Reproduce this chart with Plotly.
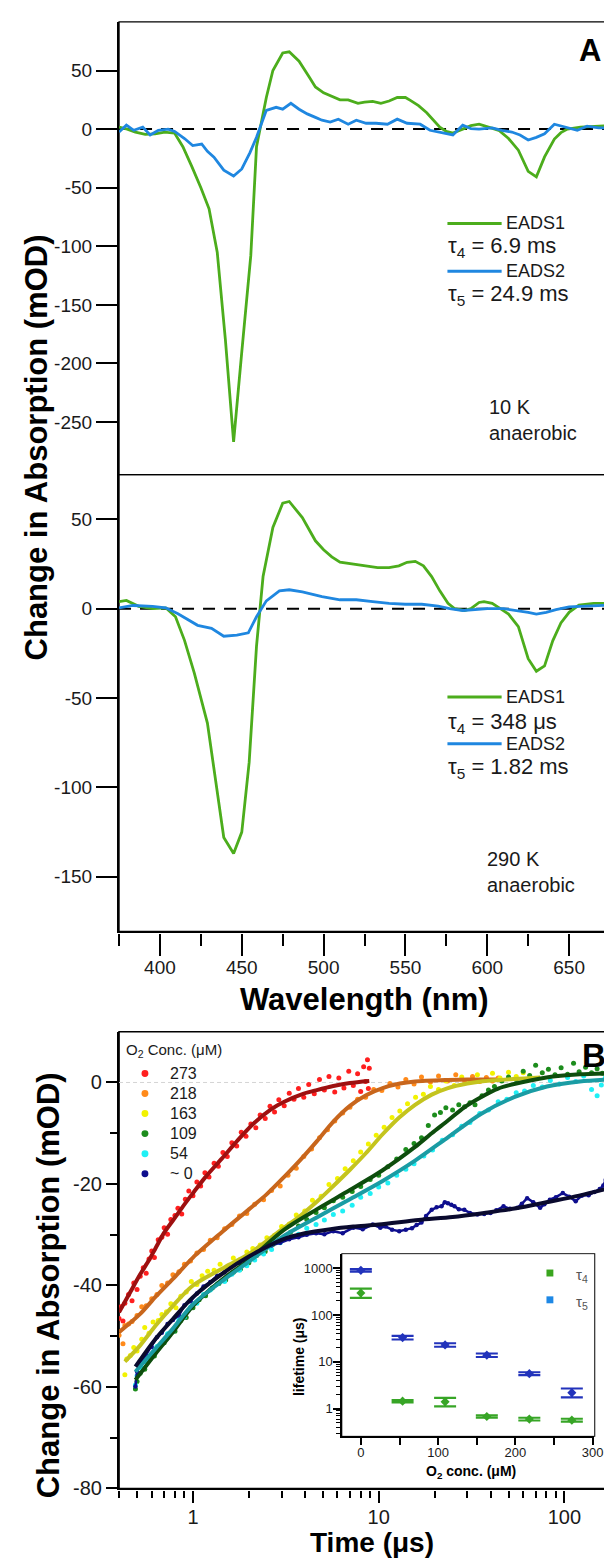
import math
import plotly.graph_objects as go

FONT = "Liberation Sans, Arial, sans-serif"
W, H = 612, 1559

# ---------------- Panel A data: (wavelength nm, mOD) ----------------
EADS1_10K = [(375,1.7),(380,0),(385,-2.5),(391,-4.5),(397,-4),(403,-2.5),(409,-3.5),(414,-15),
             (419.5,-32),(425,-50),(430,-68),(435,-105),(440,-180),(445,-267),(450,-190),
             (455.5,-108),(459,-15),(465,27),(469,50),(475,65),(479,66),(485,58),(491,45),
             (495,36),(500,31),(505,28),(510,25),(515,25),(521,22),(525,23),(530,23.7),
             (535,22),(540,24),(545,27),(550,27),(553,24.5),(558,20),(563,14),(567,8),
             (571,1.7),(575,-2),(579,-3.4),(585,0),(590,3),(595,4.2),(600,2),(607,-1),
             (613,-8),(619,-18),(625,-36),(630,-40.7),(635,-23.7),(641,-8.5),(645,-3),
             (649,0),(657,1.7),(665,2.5),(675,3)]
EADS2_10K = [(375,-2.5),(379.5,3.4),(384,-1),(389.5,1.7),(394,-5),(399,-1),(405,0),(409,-2),
             (415,-8),(420,-14),(425.5,-12.7),(429,-19),(433,-24),(439,-35),(445,-40),
             (450,-34),(455,-20),(459,-7),(465,16),(471,18.6),(475,17),(480,22),(485,17),
             (490,13),(495,10),(499,7.6),(504,6),(509,8.5),(515,4.2),(520,7.6),(526,5),
             (532,5),(539,4.2),(545,8.5),(551,5),(559,4.2),(565,-1),(572,-3),(579,-5),
             (585,3.4),(590,0.5),(595,0),(603,1),(609,-1),(615,-2.5),(620,-5),(625,-9.3),
             (630,-7),(635,-4),(641,4.2),(647,1.7),(655,-1),(661,2.5),(668,1),(674,1)]
EADS1_290K = [(375,4),(379.5,4.6),(387,1.3),(395.5,0),(403.5,0.5),(409.5,-4.5),(415,-17.7),
              (421,-36),(429,-64),(434,-96),(439,-128),(445,-137),(450,-125),(454.5,-86),
              (459,-21),(463,18),(469,45.5),(475,59),(479,60),(487,51),(495,38),(500,33),
              (505,29),(510,26),(517,25),(525,24),(533,23),(540,23),(546,24),(551,26),
              (556,26.5),(561,24),(566,18),(571,10),(576,3),(580,0),(586,-1),(590,0),
              (595,3.5),(598,4),(603,3),(608,0),(613,-3),(619,-10),(625,-28),(630,-35),
              (635,-32),(640,-18),(645,-8),(650,-2),(656,2),(665,3),(675,3)]
EADS2_290K = [(375,0.5),(383.5,1.8),(395.5,1.3),(403.5,0.5),(411,-2.8),(417,-6),(423,-9.3),
              (431.5,-11),(439,-15.4),(447,-14.8),(454,-13.5),(459,-4.5),(465,4.4),(473,10),
              (479,10.6),(487,9.4),(499,6.7),(510,5),(520,5),(530,4),(540,3),(550,2.5),
              (560,2.5),(570,1.5),(577,0),(585,-1),(592,-0.5),(600,0),(610,0),(618,-1),
              (625,-2),(630,-3),(636,-2),(642,-0.5),(650,1),(660,1.5),(675,2)]

A_Y_TICKS_TOP = [50, 0, -50, -100, -150, -200, -250]
A_Y_TICKS_BOT = [50, 0, -50, -100, -150]

# ---------------- Panel B data: (time us, mOD) ----------------
CONC_LABELS = ["273", "218", "163", "109", "54", "~ 0"]

DATA_273 = [(0.40,-46.5),(0.41,-44.2),(0.42,-47),(0.43,-43.5),(0.45,-41.8),(0.47,-43),(0.48,-39.5),
            (0.50,-40.8),(0.52,-38.2),(0.54,-36.5),(0.56,-37.6),(0.58,-34.8),(0.60,-33.2),(0.62,-34.5),
            (0.65,-31),(0.68,-30.5),(0.70,-28.6),(0.73,-29.9),(0.76,-27),(0.80,-26.2),(0.83,-24.8),
            (0.87,-25.9),(0.91,-23),(0.95,-21.4),(1.0,-22.3),(1.05,-19.6),(1.1,-20.4),(1.16,-17.8),
            (1.22,-18.6),(1.3,-15.9),(1.37,-16.5),(1.45,-13.8),(1.53,-14.6),(1.62,-11.9),(1.72,-12.5),
            (1.82,-9.8),(1.93,-10.6),(2.05,-8.2),(2.18,-8.9),(2.3,-6.4),(2.45,-7.1),(2.6,-4.7),
            (2.75,-5.8),(2.9,-3.4),(3.1,-4.6),(3.3,-2.1),(3.5,-3.3),(3.7,-1.2),(3.95,-2.9),(4.2,-0.4),
            (4.5,-2.2),(4.8,0.6),(5.1,-1.5),(5.4,1.2),(5.8,-1.9),(6.1,0.9),(6.5,-1.1),(6.9,2.2),
            (7.3,-0.6),(7.7,1.7),(8.0,-1.8),(8.3,3.1),(8.5,0.2),(8.7,4.5),(8.8,-1.2),(8.9,2.8)]
FIT_273 = [(0.40,-45.3),(0.46,-41.3),(0.52,-37.8),(0.58,-35.0),(0.63,-32.6),(0.70,-29.6),(0.78,-27.2),
           (0.88,-24.5),(1.0,-21.8),(1.17,-18.6),(1.43,-15.0),(1.75,-11.3),(2.15,-7.9),(2.63,-5.3),
           (3.1,-3.8),(3.95,-2.2),(4.64,-1.5),(5.7,-0.7),(7.0,-0.1),(8.9,0.3)]

DATA_218 = [(0.40,-49.8),(0.42,-51.5),(0.43,-47.9),(0.45,-47.6),(0.47,-47.1),(0.50,-45.9),(0.53,-44.2),
            (0.56,-44.0),(0.60,-42.6),(0.64,-41.8),(0.68,-40.0),(0.73,-39.5),(0.78,-37.9),(0.84,-37.3),
            (0.90,-35.8),(0.97,-35.2),(1.05,-33.6),(1.14,-32.9),(1.24,-31.1),(1.35,-30.6),(1.48,-28.8),
            (1.62,-28.0),(1.78,-26.3),(1.95,-25.8),(2.15,-24.0),(2.4,-23.1),(2.65,-21.3),(2.95,-20.4),
            (3.25,-18.3),(3.6,-16.9),(3.95,-14.6),(4.35,-13.1),(4.8,-10.9),(5.3,-9.3),(5.8,-7.6),
            (6.4,-6.0),(7.0,-4.9),(7.7,-3.3),(8.5,-2.9),(9.4,-1.4),(10.4,-1.6),(11.5,-0.2),(12.7,-0.9),
            (14,0.6),(15.5,-0.3),(17,1.1),(19,0.1),(21,1.3),(23.5,0.3),(26,1.5),(29,0.4),(32,1.2),
            (35,0.2),(38,1.0),(41,0.3),(44,0.9)]
FIT_218 = [(0.40,-49.2),(0.52,-45.6),(0.63,-42.2),(0.78,-38.7),(1.0,-34.5),(1.43,-29.5),(2.0,-25.0),
           (2.5,-22.0),(3.1,-18.6),(3.8,-15.2),(4.64,-11.6),(5.7,-7.7),(7.0,-4.6),(8.55,-2.5),
           (10.5,-1.1),(13,-0.2),(15.7,0.2),(23.6,0.5),(30,0.6),(43,0.6)]

DATA_163 = [(0.43,-57.6),(0.44,-54.5),(0.46,-53.8),(0.48,-52.2),(0.50,-52.9),(0.53,-50.6),(0.55,-48.3),
            (0.58,-49.4),(0.61,-47.2),(0.65,-46.9),(0.68,-45.7),(0.72,-45.2),(0.76,-43.6),(0.81,-44.4),
            (0.86,-42.1),(0.92,-41.3),(0.98,-39.2),(1.05,-39.8),(1.12,-38.1),(1.2,-37.2),(1.3,-37.0),
            (1.4,-35.8),(1.52,-36.5),(1.65,-34.6),(1.8,-34.9),(1.95,-33.4),(2.1,-32.7),(2.3,-32.0),
            (2.5,-30.6),(2.75,-30.1),(3.0,-28.4),(3.3,-27.9),(3.6,-26.1),(4.0,-25.3),(4.4,-23.2),
            (4.9,-22.4),(5.4,-20.1),(6.0,-18.9),(6.6,-17.0),(7.3,-15.4),(8.0,-13.7),(8.8,-12.1),
            (9.7,-10.4),(10.7,-8.8),(11.8,-6.9),(13,-5.6),(14.3,-4.2),(15.8,-2.9),(17.4,-2.3),(19,-0.8),
            (21,-1.4),(23,0.3),(25.5,-0.6),(28,1.1),(31,0.2),(34,1.5),(37,0.4),(41,1.8),(45,0.9),
            (50,2.0),(55,1.2),(60,1.9)]
FIT_163 = [(0.43,-55.0),(0.52,-51.8),(0.63,-47.9),(0.78,-44.0),(1.0,-40.0),(1.5,-36.3),(2.0,-33.8),
           (3.1,-28.6),(3.8,-26.2),(4.64,-23.5),(5.7,-20.4),(7.0,-17.2),(8.55,-13.9),(10.5,-10.2),
           (12.9,-6.9),(15.7,-4.4),(19.3,-2.4),(23.6,-1.1),(30,-0.2),(35.5,0.2),(53.6,0.7),(74,1.0)]

DATA_109 = [(0.49,-60.4),(0.50,-58.9),(0.52,-57.3),(0.55,-56.5),(0.58,-54.4),(0.62,-53.9),(0.66,-52.0),
            (0.70,-51.3),(0.75,-49.6),(0.80,-49.0),(0.86,-46.9),(0.92,-46.3),(1.0,-44.4),(1.08,-42.8),
            (1.17,-42.0),(1.27,-40.5),(1.38,-39.6),(1.5,-38.9),(1.65,-37.4),(1.8,-36.8),(2.0,-35.5),
            (2.2,-34.1),(2.45,-33.3),(2.7,-31.9),(3.0,-30.8),(3.35,-29.5),(3.7,-28.3),(4.1,-27.0),
            (4.6,-25.6),(5.1,-24.7),(5.7,-23.3),(6.4,-22.6),(7.2,-21.5),(8.0,-20.5),(9.0,-19.1),
            (10,-18.3),(11.2,-16.6),(12.5,-15.1),(14,-13.2),(15.5,-12.0),(17,-10.9),(18.5,-8.5),
            (20,-6.4),(21.5,-5.9),(23,-5.0),(25,-5.4),(27,-4.4),(29,-4.8),(31,-4.0),(33,-4.4),
            (36,-2.6),(39,-1.5),(42,-0.8),(46,0.3),(50,1.1),(55,0.6),(60,2.2),(65,1.4),(70,3.4),
            (76,1.9),(82,2.6),(89,1.5),(96,2.9),(104,1.6),(112,3.8),(120,2.1),(130,3.0),(140,1.9),
            (150,2.7),(160,1.8),(170,2.9),(176,2.4)]
FIT_109 = [(0.49,-58.6),(0.63,-53.4),(0.78,-49.2),(1.0,-44.0),(1.5,-38.3),(2.0,-35.0),(3.1,-29.0),
           (4.64,-25.0),(7.0,-21.2),(10.5,-17.3),(15.7,-12.7),(19.3,-10.0),(23.6,-7.5),(28.9,-4.9),
           (35.5,-2.9),(44,-1.2),(53.6,-0.3),(80,1.0),(121,1.6),(176,1.8)]

DATA_54 = [(0.49,-59.6),(0.50,-57.8),(0.53,-56.2),(0.56,-55.1),(0.60,-53.8),(0.64,-52.0),(0.68,-51.4),
           (0.73,-49.5),(0.78,-49.0),(0.84,-46.8),(0.90,-46.2),(0.97,-44.3),(1.05,-43.5),(1.14,-41.8),
           (1.24,-40.9),(1.35,-39.7),(1.48,-39.2),(1.62,-37.8),(1.78,-37.0),(1.95,-36.1),(2.15,-35.0),
           (2.4,-33.8),(2.65,-32.9),(2.95,-31.6),(3.3,-30.6),(3.7,-29.9),(4.1,-28.7),(4.6,-28.0),
           (5.1,-27.1),(5.7,-26.0),(6.4,-25.3),(7.2,-24.2),(8.0,-22.6),(9.0,-21.9),(10,-20.6),
           (11.2,-19.8),(12.5,-18.3),(14,-17.1),(15.5,-16.0),(17.5,-14.5),(19.5,-13.3),(22,-11.4),
           (25,-10.3),(28,-8.6),(31,-7.9),(35,-6.1),(39,-5.4),(44,-3.8),(49,-3.3),(55,-2.0),(61,-1.7),
           (68,-0.6),(76,-0.9),(84,0.4),(94,-0.3),(104,1.0),(115,0.2),(127,1.3),(140,-1.4),(150,-2.6),
           (158,-0.5),(166,0.9),(176,1.2)]
FIT_54 = [(0.49,-57.0),(0.63,-52.4),(0.78,-48.5),(1.0,-43.7),(1.5,-38.6),(2.0,-35.3),(3.1,-30.2),
          (4.64,-26.6),(7.0,-23.0),(10.5,-19.4),(15.7,-15.4),(23.6,-10.8),(35.5,-6.2),(53.6,-2.9),
          (80.5,-0.8),(121,0.2),(176,0.6)]

DATA_0 = [(0.49,-59.9),(0.50,-56.9),(0.53,-55.0),(0.56,-53.6),(0.60,-52.1),(0.64,-50.2),(0.68,-49.3),
          (0.73,-47.6),(0.78,-46.8),(0.84,-45.9),(0.90,-43.9),(0.97,-43.1),(1.05,-41.6),(1.14,-40.2),
          (1.24,-39.3),(1.35,-38.1),(1.48,-37.4),(1.62,-36.2),(1.78,-35.5),(1.95,-34.6),(2.15,-33.6),
          (2.4,-32.9),(2.65,-32.1),(2.95,-31.6),(3.3,-30.9),(3.7,-30.5),(4.1,-30.0),(4.6,-29.7),
          (5.1,-29.9),(5.7,-29.3),(6.4,-29.7),(7.3,-28.6),(8.2,-28.9),(9.3,-28.0),(10.2,-28.6),
          (10.9,-28.4),(11.8,-29.0),(12.9,-29.3),(14,-29.0),(15.1,-28.7),(16,-28.1),(17,-27.6),
          (18,-26.3),(19.3,-25.1),(20.5,-24.6),(21.8,-24.4),(22.7,-23.6),(23.6,-23.8),(24.6,-24.1),
          (25.6,-24.4),(27,-25.0),(28.9,-25.1),(31,-25.7),(34,-26.0),(37,-25.9),(40,-25.7),(43,-25.2),
          (47,-24.4),(51,-24.9),(55.8,-24.7),(59,-23.9),(63,-22.8),(68,-23.6),(74,-24.7),(78,-24.0),
          (83.5,-23.1),(90,-22.6),(98,-21.8),(106,-22.5),(115,-23.4),(124,-22.3),(135,-22.2),
          (145,-21.6),(155,-21.0),(162,-20.3),(167,-19.2),(172,-20.0),(176,-20.5)]
FIT_0 = [(0.49,-56.0),(0.63,-50.5),(0.78,-46.6),(1.0,-42.3),(1.5,-37.2),(2.0,-34.3),(3.0,-31.0),
         (4.0,-29.7),(5.5,-28.9),(7.3,-28.4),(10,-28.0),(16.4,-27.1),(25,-26.5),(37,-25.7),
         (55,-24.8),(83,-23.5),(120,-22.3),(176,-20.8)]

B_Y_TICKS = [0, -20, -40, -60, -80]
B_X_TICKS = [1, 10, 100]
B_X_MINOR = [0.4,0.5,0.6,0.7,0.8,0.9,2,3,4,5,6,7,8,9,20,30,40,50,60,70,80,90]

# ---------------- Inset data: O2 conc (uM) vs lifetime (us) ----------------
O2_CONC = [0, 54, 109, 163, 218, 273]
TAU5 = [900, 33, 23, 13.9, 5.6, 2.2]
TAU5_ERR_PLUS = [60, 3, 2, 1.2, 0.4, 0.5]
TAU5_ERR_MINUS = [55, 3, 2, 1.2, 0.4, 0.45]
TAU4 = [295, 1.45, 1.4, 0.68, 0.6, 0.57]
TAU4_ERR_PLUS = [70, 0.08, 0.3, 0.04, 0.04, 0.04]
TAU4_ERR_MINUS = [62, 0.08, 0.28, 0.04, 0.04, 0.04]
INSET_X_TICKS = [0, 100, 200, 300]
INSET_X_MINOR = [50, 150, 250]
INSET_Y_TICKS = [1, 10, 100, 1000]
INSET_Y_MINOR = [0.3,0.4,0.5,0.6,0.7,0.8,0.9,2,3,4,5,6,7,8,9,20,30,40,50,60,70,80,90,
                 200,300,400,500,600,700,800,900]

# ---------------- styling ----------------
GREEN = "#4cad1c"
BLUE = "#1f87e0"
COLORS_PTS = ["#ff1f1f", "#ff8a1a", "#f2f200", "#1c8c1c", "#1ff0f5", "#0e0e8e"]
COLORS_FIT = ["#9e1010", "#c8661c", "#c4c41e", "#0d4d0d", "#1a9ca4", "#0a0a2e"]
INSET_BLUE = "#2233bb"
INSET_GREEN = "#37a526"


def px(x):
    return x / W


def py(y):
    return 1 - y / H


def unzip(pairs):
    return [p[0] for p in pairs], [p[1] for p in pairs]


fig = go.Figure()

# Panel A curves
for pairs, col, ax, ay in [(EADS1_10K, GREEN, "x", "y"), (EADS2_10K, BLUE, "x", "y"),
                           (EADS1_290K, GREEN, "x2", "y2"), (EADS2_290K, BLUE, "x2", "y2")]:
    xs, ys = unzip(pairs)
    fig.add_trace(go.Scatter(x=xs, y=ys, mode="lines", line=dict(color=col, width=2.8),
                             xaxis=ax, yaxis=ay, showlegend=False, hoverinfo="skip"))

# Panel B data points
datas = [DATA_273, DATA_218, DATA_163, DATA_109, DATA_54, DATA_0]
fits = [FIT_273, FIT_218, FIT_163, FIT_109, FIT_54, FIT_0]
for i, pairs in enumerate(datas):
    xs, ys = unzip(pairs)
    if i == 5:
        fig.add_trace(go.Scatter(x=xs, y=ys, mode="lines+markers",
                                 line=dict(color=COLORS_PTS[i], width=2.5),
                                 marker=dict(color=COLORS_PTS[i], size=4.5, line=dict(width=0)),
                                 xaxis="x3", yaxis="y3", showlegend=False, hoverinfo="skip"))
    else:
        fig.add_trace(go.Scatter(x=xs, y=ys, mode="markers",
                                 marker=dict(color=COLORS_PTS[i], size=5, line=dict(width=0)),
                                 xaxis="x3", yaxis="y3", showlegend=False, hoverinfo="skip"))
for i, pairs in enumerate(fits):
    xs, ys = unzip(pairs)
    fig.add_trace(go.Scatter(x=xs, y=ys, mode="lines",
                             line=dict(color=COLORS_FIT[i], width=4, shape="spline", smoothing=0.8),
                             xaxis="x3", yaxis="y3", showlegend=False, hoverinfo="skip"))

# Inset
fig.add_trace(go.Scatter(x=O2_CONC, y=TAU5, mode="markers",
                         marker=dict(color=INSET_BLUE, size=7, symbol="diamond"),
                         error_y=dict(type="data", symmetric=False, array=TAU5_ERR_PLUS,
                                      arrayminus=TAU5_ERR_MINUS, width=11, thickness=2.2, color=INSET_BLUE),
                         xaxis="x4", yaxis="y4", showlegend=False, hoverinfo="skip"))
fig.add_trace(go.Scatter(x=O2_CONC, y=TAU4, mode="markers",
                         marker=dict(color=INSET_GREEN, size=7, symbol="diamond"),
                         error_y=dict(type="data", symmetric=False, array=TAU4_ERR_PLUS,
                                      arrayminus=TAU4_ERR_MINUS, width=11, thickness=2.2, color=INSET_GREEN),
                         xaxis="x4", yaxis="y4", showlegend=False, hoverinfo="skip"))

tickfontA = dict(family=FONT, size=19, color="#1a1a1a")
tickfontB = dict(family=FONT, size=20, color="#1a1a1a")
tickfontI = dict(family=FONT, size=13, color="#1a1a1a")

xdom = [px(112.7), px(611)]
common = dict(showgrid=False, zeroline=False, linecolor="black", tickcolor="black")

fig.update_layout(
    width=W, height=H, margin=dict(l=0, r=0, t=0, b=0),
    paper_bgcolor="white", plot_bgcolor="white",
    font=dict(family=FONT, color="#1a1a1a"),
    xaxis=dict(domain=xdom, range=[375, 675], anchor="y", showticklabels=False, ticks="",
               showline=False, **common),
    yaxis=dict(domain=[py(470), py(14)], range=[-294.9, 91.5], anchor="x",
               tickmode="array", tickvals=A_Y_TICKS_TOP, ticktext=[str(v) for v in A_Y_TICKS_TOP],
               ticks="outside", ticklen=21, tickwidth=2, showline=True, linewidth=2.2,
               tickfont=tickfontA, **common),
    xaxis2=dict(domain=xdom, range=[375, 675], anchor="y2", tickmode="linear", tick0=400, dtick=50,
                ticks="outside", ticklen=22, tickwidth=2, showline=True, linewidth=2.2,
                ticklabelstandoff=-4,
                minor=dict(tickmode="array", tickvals=[375, 425, 475, 525, 575, 625, 675],
                           ticks="outside", ticklen=12, tickwidth=2, tickcolor="black"),
                tickfont=tickfontA, **common),
    yaxis2=dict(domain=[py(930), py(470)], range=[-180.6, 75], anchor="x2",
                tickmode="array", tickvals=A_Y_TICKS_BOT, ticktext=[str(v) for v in A_Y_TICKS_BOT],
                ticks="outside", ticklen=21, tickwidth=2, showline=True, linewidth=2.2,
                tickfont=tickfontA, **common),
    xaxis3=dict(domain=xdom, type="log", range=[math.log10(0.40), math.log10(176)], anchor="y3",
                tickmode="array", tickvals=B_X_TICKS, ticktext=[str(v) for v in B_X_TICKS],
                ticks="outside", ticklen=12, tickwidth=2, showline=True, linewidth=2.2,
                ticklabelstandoff=-3,
                minor=dict(tickmode="array", tickvals=B_X_MINOR, ticks="outside", ticklen=7,
                           tickwidth=1.5, tickcolor="black"),
                tickfont=tickfontB, **common),
    yaxis3=dict(domain=[py(1491), py(1031)], range=[-80, 10], anchor="x3",
                tickmode="array", tickvals=B_Y_TICKS, ticktext=[str(v) for v in B_Y_TICKS],
                ticks="outside", ticklen=11, tickwidth=2, showline=True, linewidth=2.2,
                minor=dict(tickmode="array", tickvals=[-10, -30, -50, -70], ticks="outside",
                           ticklen=7, tickwidth=2, tickcolor="black"),
                tickfont=tickfontB, **common),
    xaxis4=dict(domain=[px(339.3), px(595)], range=[-24, 302], anchor="y4",
                tickmode="array", tickvals=INSET_X_TICKS, ticktext=[str(v) for v in INSET_X_TICKS],
                ticks="outside", ticklen=7, tickwidth=1.5, showline=True, linewidth=2,
                ticklabelstandoff=-3,
                minor=dict(tickmode="array", tickvals=INSET_X_MINOR, ticks="outside", ticklen=7,
                           tickwidth=1.5, tickcolor="black"),
                tickfont=tickfontI, **common),
    yaxis4=dict(domain=[py(1438), py(1255)], type="log", range=[-0.58, 3.30], anchor="x4",
                tickmode="array", tickvals=INSET_Y_TICKS, ticktext=[str(v) for v in INSET_Y_TICKS],
                ticks="outside", ticklen=7, tickwidth=1.5, showline=True, linewidth=2,
                ticklabelstandoff=-2,
                minor=dict(tickmode="array", tickvals=INSET_Y_MINOR, ticks="outside", ticklen=4,
                           tickwidth=1, tickcolor="black"),
                tickfont=tickfontI, **common),
)

shapes = []
# frames
for xa, ya, w in [("x", "y", 1.3), ("x2", "y2", 1.3), ("x3", "y3", 1.6), ("x4", "y4", 2)]:
    shapes.append(dict(type="rect", xref=f"{xa} domain", yref=f"{ya} domain", x0=0, x1=1, y0=0, y1=1,
                       line=dict(color="black", width=w), fillcolor="rgba(0,0,0,0)", layer="below"))
# zero lines
for xa, ya in [("x", "y"), ("x2", "y2")]:
    shapes.append(dict(type="line", xref=f"{xa} domain", yref=ya, x0=0, x1=1, y0=0, y1=0,
                       line=dict(color="black", width=2, dash="12px,9px"), layer="below"))
shapes.append(dict(type="line", xref="x3 domain", yref="y3", x0=0, x1=1, y0=0, y1=0,
                   line=dict(color="#d4d4d4", width=1, dash="4px,3px"), layer="below"))
# panel A legend line samples
for yy, col in [(217, GREEN), (265, BLUE), (694, GREEN), (741, BLUE)]:
    shapes.append(dict(type="line", xref="paper", yref="paper", x0=px(446), x1=px(501),
                       y0=py(yy), y1=py(yy), line=dict(color=col, width=3)))
# panel B legend markers
for i, col in enumerate(COLORS_PTS):
    yc = 1073 + 20.2 * i
    shapes.append(dict(type="circle", xref="paper", yref="paper", x0=px(135.5), x1=px(142.5),
                       y0=py(yc + 3.5), y1=py(yc - 3.5), fillcolor=col, line=dict(width=0)))
# inset legend squares
for yc, col in [(1274, "#3aa51e"), (1301, "#1e88e5")]:
    shapes.append(dict(type="rect", xref="paper", yref="paper", x0=px(546.5), x1=px(553.5),
                       y0=py(yc + 3.5), y1=py(yc - 3.5), fillcolor=col, line=dict(width=0)))

ann = []


def A(text, x, y, size, xanchor="left", bold=False, angle=0, color="#1a1a1a"):
    ann.append(dict(text=f"<b>{text}</b>" if bold else text, x=px(x), y=py(y), xref="paper", yref="paper",
                    xanchor=xanchor, yanchor="middle", showarrow=False, textangle=angle,
                    font=dict(family=FONT, size=size, color=color)))


A("A", 591, 43, 31, "center", bold=True, color="black")
A("B", 595, 1055, 33, "center", bold=True, color="black")
A("EADS1", 503, 217, 18)
A("τ<sub>4</sub> = 6.9 ms", 445, 241, 22)
A("EADS2", 503, 265, 18)
A("τ<sub>5</sub> = 24.9 ms", 445, 289, 22)
A("10 K", 486, 402, 20)
A("anaerobic", 486, 428, 20)
A("EADS1", 503, 694, 18)
A("τ<sub>4</sub> = 348 μs", 445, 720, 22)
A("EADS2", 503, 741, 18)
A("τ<sub>5</sub> = 1.82 ms", 445, 765, 22)
A("290 K", 484, 857, 20)
A("anaerobic", 484, 883, 20)
A("Change in Absorption (mOD)", 29, 443, 31, "center", bold=True, angle=-90, color="black")
A("Change in Absorption (mOD)", 42, 1286, 31, "center", bold=True, angle=-90, color="black")
A("Wavelength (nm)", 362, 999, 31, "center", bold=True, color="black")
A("Time (μs)", 369, 1545, 28, "center", bold=True, color="black")
A("O<sub>2</sub> Conc. (μM)", 118, 1050, 15)
for i, lab in enumerate(CONC_LABELS):
    A(lab, 162, 1073 + 20.2 * i, 16)
A("lifetime (μs)", 296, 1358, 14, "center", bold=True, angle=-90, color="black")
A("O<sub>2</sub> conc. (μM)", 470, 1474, 14, "center", bold=True, color="black")
A("τ<sub>4</sub>", 574, 1277, 15, color="#555555")
A("τ<sub>5</sub>", 574, 1304, 15, color="#555555")

fig.update_layout(shapes=shapes, annotations=ann)
fig.write_html("out.html")
